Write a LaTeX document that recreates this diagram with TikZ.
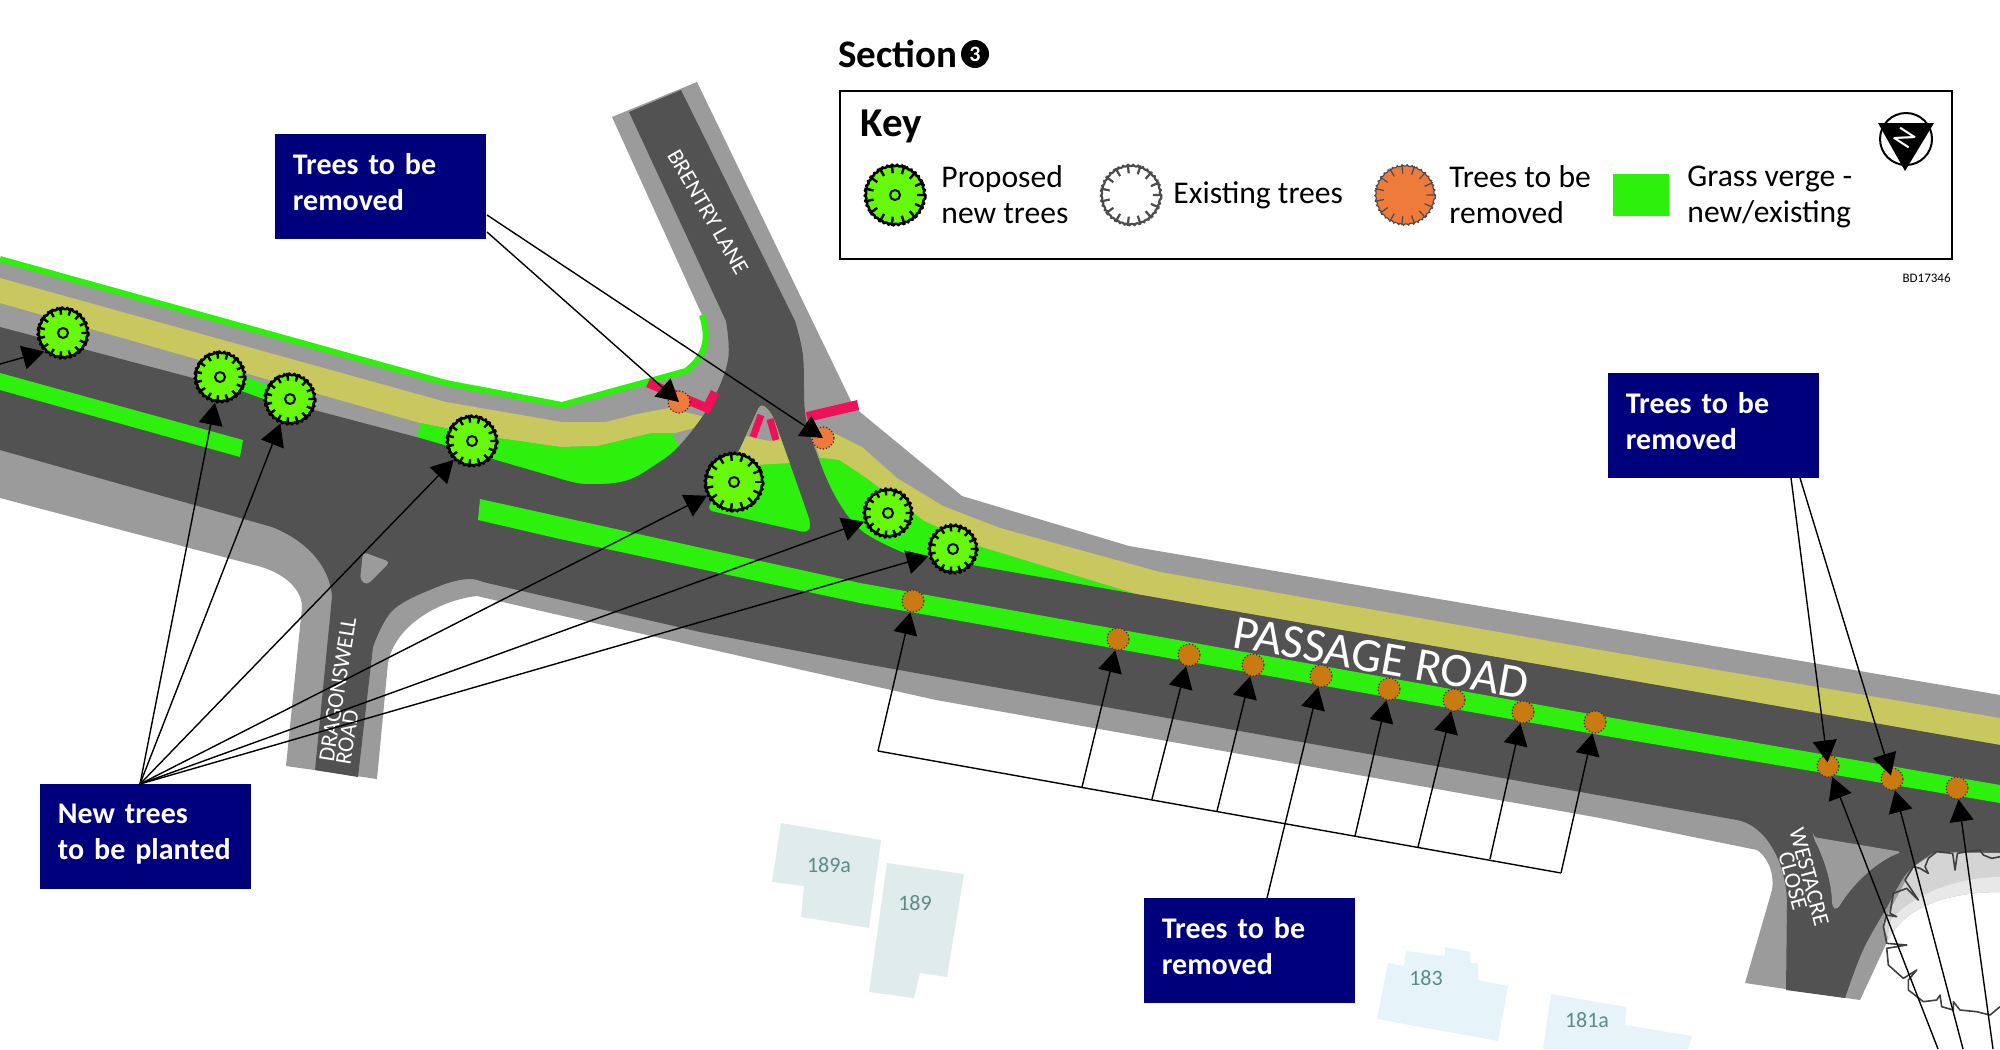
\documentclass[tikz,border=0pt]{standalone}
\usepackage{fontspec}
\setmainfont{Carlito}
\usetikzlibrary{arrows.meta,calc,decorations.pathmorphing}
\definecolor{kerb}{HTML}{9B9B9B}
\definecolor{tarmac}{HTML}{525252}
\definecolor{cycleway}{HTML}{C8C85E}
\definecolor{verge}{HTML}{2DF00D}
\definecolor{leaf}{HTML}{66FA0A}
\definecolor{navybox}{HTML}{00007C}
\definecolor{crossing}{HTML}{F0105A}
\definecolor{oldtree}{HTML}{EE7A3C}
\definecolor{stumptree}{HTML}{C97A10}
\definecolor{house}{HTML}{DFECEB}
\definecolor{housetwo}{HTML}{E6F3F8}
\definecolor{housetext}{HTML}{5F8A88}
\tikzset{
  callout/.style={fill=navybox,text=white,font=\fontsize{15}{18}\selectfont\bfseries,align=left,anchor=north west,
    minimum width=105.5pt,minimum height=52.5pt,inner sep=0pt,text width=88pt,text depth=23pt},
  keytext/.style={font=\fontsize{15.8}{18}\selectfont,align=left,anchor=west,inner sep=0pt},
  roadname/.style={text=white,inner sep=0pt,align=center},
  houseno/.style={text=housetext,font=\fontsize{11}{12}\selectfont,inner sep=0pt},
  treeshape/.style={circle,draw,inner sep=0pt,line join=round,decorate,decoration={bumps,segment length=5pt,amplitude=.6pt}},
  newtreenode/.style={treeshape,fill=leaf,line width=1.3pt},
  treeeye/.style={circle,draw,fill=leaf,line width=1pt,minimum size=5pt,inner sep=0pt},
  smalltree/.style={circle,draw=black!80,densely dotted,line width=.6pt,fill=stumptree,minimum size=11pt,inner sep=0pt},
  redtree/.style={smalltree,fill=oldtree},
  lead/.style={->,line width=.7pt},
  >={Triangle[length=11pt,width=12pt]}
}
\newcommand{\treeticks}[2]{\foreach \ang in {0,24,...,336} \draw[#2] (#1.\ang) -- ($(#1.\ang)!0.3!(#1.center)$);}
\newcommand{\newtree}[3]{
  \node[newtreenode,minimum size=#3pt] (#1) at (#2) {};
  \treeticks{#1}{line width=1.2pt}
  \node[treeeye] (#1eye) at (#1) {};
}
\begin{document}
\begin{tikzpicture}[x=.5pt,y=-.5pt]
\clip (0,0) rectangle (2000,1049);

% roads
\fill[kerb] (0,259) -- (446,383) -- (562,405) -- (686,371) .. controls (700,360) and (712,345) .. (702,315) -- (612,117) -- (697,82) -- (851,401) -- (860,412) -- (962,496) -- (1129,546) -- (2000,695) -- (2000,892) .. controls (1950,892) and (1905,905) .. (1887,942) -- (1860,1000) -- (1745,983) -- (1772,890) .. controls (1775,870) and (1765,855) .. (1757,850) -- (1600,818) -- (936,700) -- (860,683) -- (700,647) -- (550,613) -- (477,596) .. controls (440,600) and (395,625) .. (388,663) -- (377,779) -- (286,766) -- (302,607) .. controls (302,590) and (285,572) .. (254,565) -- (0,498) -- cycle;
\draw[verge,line width=3pt] (0,259) -- (446,383) -- (562,405) -- (686,371) .. controls (700,360) and (712,345) .. (702,315);

\fill[cycleway] (0,278) -- (446,402) -- (562,422) -- (606,422) -- (637,414) -- (669,408) -- (705,417) -- (698,427) -- (675,433) -- (652,433) -- (598,446) -- (560,447) -- (491,437) -- (420,423) -- (0,303) -- cycle;
\fill[verge] (420,423) -- (491,437) -- (560,447) -- (598,446) -- (652,433) -- (672,433) -- (679,447) -- (690,470) -- (600,500) -- (415,445) -- cycle;
\fill[cycleway] (834,433) -- (862,447) -- (897,478) -- (943,506) -- (1000,528) -- (1160,572) -- (1600,650) -- (2000,718) -- (2000,745) -- (1136,594) -- (981,547) -- (924,521) -- (866,478) -- (839,460) -- (820,458) -- (810,430) -- cycle;
\fill[verge] (820,458) -- (839,460) -- (866,478) -- (924,521) -- (981,547) -- (1136,594) -- (904,560) -- (850,540) -- (825,500) -- cycle;

\fill[tarmac] (0,327) -- (420,438) -- plot[smooth,tension=.6] coordinates {(558,478) (585,484) (625,481) (655,465) (680,445) (711,403) (728,360) (726,321)} -- (629,112) -- (681,90) -- plot[smooth,tension=.6] coordinates {(795,321) (803,356) (805,412) (814,446) (835,496) (862,531) (904,553)} -- (1136,594) -- (2000,745) -- (2000,860) -- plot[smooth,tension=.6] coordinates {(1933,853) (1907,873) (1887,907) (1863,950) (1845,998)} -- (1786,990) -- (1787,900) .. controls (1785,860) and (1765,825) .. (1737,820) -- (860,663) -- (700,632) -- plot[smooth,tension=.6] coordinates {(483,582) (467,579) (437,587) (393,610) (373,647)} -- (358,777) -- (315,770) -- (332,597) .. controls (330,565) and (305,540) .. (272,527) -- (0,450) -- cycle;

% medians and islands
\fill[verge] (0,373) -- (243,440) -- (240,457) -- (0,390) -- cycle;
\fill[verge] (230,370) -- (280,390) -- (272,402) -- (225,385) -- cycle;
\fill[verge] (480,499) -- (860,583) -- (1607,717) -- (2000,785) -- (2000,803) -- (1600,735) -- (860,603) -- (560,539) -- (478,520) -- cycle;
\fill[kerb,rounded corners=2pt] (363,552) -- (390,562) -- (367,585) -- (360,580) -- cycle;
\fill[kerb,rounded corners=2pt] (1813,837) -- (1902,852) .. controls (1880,860) and (1855,880) .. (1837,910) -- (1832,907) .. controls (1832,885) and (1825,860) .. (1813,837) -- cycle;
\begin{scope}
  \clip[rounded corners=3pt] (761,403) -- (740,449) -- (707,510) -- (808,533) -- (811,524) -- (790,464) -- (772,414) -- cycle;
  \fill[verge] (700,400) rectangle (820,540);
  \fill[cycleway] (700,400) -- (820,400) -- (820,462) -- (790,463) -- (755,465) -- (700,445) -- cycle;
  \fill[kerb] (700,395) -- (820,395) -- (820,430) -- (780,435) -- (770,441) -- (755,438) -- (700,425) -- cycle;
\end{scope}

% crossings
\draw[crossing,line width=4.5pt] (648,383) -- (707,408) -- (715,392);
\draw[crossing,line width=3.5pt] (753,437) -- (761,415);
\draw[crossing,line width=3.5pt] (776,440) -- (770,419);
\draw[crossing,line width=5pt] (807,417) -- (858,405);

% tree at the corner of Westacre Close
\fill[black!17] (2000,853) -- (1937,852) -- (1913,867) -- (1890,910) -- (1883,923) -- (1887,937) .. controls (1905,905) and (1950,892) .. (2000,892) -- cycle;
\fill[black!9] (1890,922) .. controls (1905,900) and (1950,877) .. (2000,877) -- (2000,892) .. controls (1950,892) and (1905,905) .. (1887,942) -- cycle;
\begin{scope}[shift={(1600,640)},x=.16667pt,y=-.16667pt]
  \draw[black!75,line width=.8pt,line join=round] (1200,650) -- (1175,655) -- (1150,645) -- (1140,630) -- (1100,635) -- (1072,640) -- (1065,690) -- (1058,640) -- (1010,635) -- (985,655) -- (975,680) -- (985,700) -- (960,685) -- (940,680) -- (915,720) -- (955,780) -- (920,745) -- (880,760) -- (870,820) -- (890,830) -- (860,825) -- (850,860) -- (860,910) -- (920,915) -- (860,925) -- (865,975) -- (910,1015) -- (950,990) -- (925,1020) -- (925,1050) -- (970,1085) -- (1010,1080) -- (1020,1065) -- (1025,1100) -- (1060,1110) -- (1060,1085) -- (1080,1110) -- (1130,1115) -- (1170,1125) -- (1200,1100);
\end{scope}

% houses
\fill[house] (781,823) -- (881,840) -- (869,928) -- (801,917) -- (804,886) -- (772,882) -- cycle;
\fill[house] (887,863) -- (964,874) -- (947,977) -- (920,973) -- (914,998) -- (869,992) -- cycle;
\fill[housetwo] (1406,951) -- (1445,956) -- (1445,947) -- (1470,952) -- (1470,963) -- (1478,963) -- (1478,980) -- (1508,986) -- (1498,1041) -- (1377,1019) -- (1388,963) -- (1404,966) -- cycle;
\fill[housetwo] (1551,994) -- (1626,1007) -- (1625,1025) -- (1692,1036) -- (1688,1049) -- (1543,1049) -- cycle;
\node[houseno] (no189a) at (829,865) {189a};
\node[houseno] (no189) at (915,903) {189};
\node[houseno] (no183) at (1426,978) {183};
\node[houseno] (no181a) at (1587,1020) {181a};

% road names
\node[roadname,rotate=-60,font=\fontsize{11.5}{12}\selectfont] (brentry) at (708,212) {BRENTRY LANE};
\node[roadname,rotate=-10,font=\fontsize{24}{26}\selectfont] (passage) at (1381,658) {PASSAGE ROAD};
\node[roadname,rotate=81,align=left,font=\fontsize{11.5}{8.5}\selectfont] (dragon) at (346,691) {DRAGONSWELL\\ROAD};
\node[roadname,rotate=-75,font=\fontsize{11.5}{8.5}\selectfont] (westacre) at (1801,879) {WESTACRE\\CLOSE};

% trees
\newtree{tone}{63,333}{25}
\newtree{ttwo}{220,377}{25}
\newtree{tthree}{290,399}{25}
\newtree{tfour}{472,441}{25}
\newtree{tfive}{734,482}{29}
\newtree{tsix}{888,513}{24}
\newtree{tseven}{953,549}{24}
\node[redtree] (rone) at (679,402) {};
\node[redtree] (rtwo) at (823,438) {};
\node[smalltree] (sone) at (913,601) {};
\node[smalltree] (stwo) at (1118,639) {};
\node[smalltree] (sthree) at (1189,655) {};
\node[smalltree] (sfour) at (1253,665) {};
\node[smalltree] (sfive) at (1321,676) {};
\node[smalltree] (ssix) at (1389,689) {};
\node[smalltree] (sseven) at (1454,700) {};
\node[smalltree] (seight) at (1523,712) {};
\node[smalltree] (snine) at (1595,722) {};
\node[smalltree] (sten) at (1828,766) {};
\node[smalltree] (selev) at (1892,779) {};
\node[smalltree] (stwel) at (1957,788) {};

% callouts
\node[callout] (boxa) at (275,134) {Trees to be\\removed};
\node[callout] (boxb) at (1608,373) {Trees to be\\removed};
\node[callout] (boxc) at (40,784) {New trees\\\mbox{to be planted}};
\node[callout] (boxd) at (1144,898) {Trees to be\\removed};

% leaders
\coordinate (aup) at (487,215);
\coordinate (adown) at (487,232);
\coordinate (bleft) at (1791,478);
\coordinate (bright) at (1800,478);
\coordinate (cfoot) at (140,784);
\coordinate (dfoot) at (1267,898);
\coordinate (edge) at (0,364);
\coordinate (foota) at (1938,1049);
\coordinate (footb) at (1963,1049);
\coordinate (footc) at (1993,1049);
\coordinate (brack) at (878,751);
\coordinate (bracka) at (1082,787);
\coordinate (brackb) at (1152,799);
\coordinate (brackc) at (1217,811);
\coordinate (brackd) at (1355,836);
\coordinate (bracke) at (1418,847);
\coordinate (brackf) at (1490,859);
\coordinate (brackg) at (1561,873);
\draw[line width=.7pt] (brack) -- (brackg);
\draw[lead] (edge) -- (tone.225);
\draw[lead] (cfoot) -- (ttwo);
\draw[lead] (cfoot) -- (tthree);
\draw[lead] (cfoot) -- (tfour);
\draw[lead] (cfoot) -- (tfive);
\draw[lead] (cfoot) -- (tsix);
\draw[lead] (cfoot) -- (tseven);
\draw[lead] (adown) -- (rone.center);
\draw[lead] (aup) -- (rtwo.center);
\draw[lead] (brack) -- (sone);
\draw[lead] (bracka) -- (stwo);
\draw[lead] (brackb) -- (sthree);
\draw[lead] (brackc) -- (sfour);
\draw[lead] (dfoot) -- (sfive);
\draw[lead] (brackd) -- (ssix);
\draw[lead] (bracke) -- (sseven);
\draw[lead] (brackf) -- (seight);
\draw[lead] (brackg) -- (snine);
\draw[lead,shorten >=-4pt] (bleft) -- (sten);
\draw[lead,shorten >=-4pt] (bright) -- (selev);
\draw[lead] (foota) -- (sten);
\draw[lead] (footb) -- (selev);
\draw[lead] (footc) -- (stwel);

% key
\node[anchor=west,inner sep=0pt,font=\fontsize{19.5}{20}\selectfont\bfseries] (title) at (838,54) {Section};
\node[circle,fill=black,text=white,inner sep=0pt,minimum size=14pt,font=\fontsize{11}{11}\selectfont\bfseries] (secno) at (975,54) {3};
\node[draw,line width=1.2pt,anchor=north west,minimum width=556pt,minimum height=84pt,inner sep=0pt] (keybox) at (839,90) {};
\node[anchor=west,inner sep=0pt,font=\fontsize{20.5}{21}\selectfont\bfseries] (keyhead) at (860,126) {Key};
\newtree{keynew}{895,195}{30}
\node[treeshape,black!70,fill=white,line width=1.1pt,minimum size=30pt] (keyold) at (1131,195) {};
\treeticks{keyold}{black!70,line width=1.1pt}
\node[treeshape,black!70,fill=oldtree,line width=.6pt,minimum size=30pt] (keyred) at (1405,195) {};
\treeticks{keyred}{black!70,line width=.6pt}
\node[fill=verge,minimum width=28pt,minimum height=21pt,inner sep=0pt] (keyverge) at (1641,195) {};
\node[keytext] (textnew) at (941,195) {Proposed\\new trees};
\node[keytext] (textold) at (1173,195) {Existing trees};
\node[keytext] (textred) at (1449,195) {Trees to be\\removed};
\node[keytext] (textverge) at (1687,197) {Grass verge -\\new/existing};
\node[anchor=east,inner sep=0pt,font=\fontsize{6.5}{7}\selectfont] (code) at (1951,278) {BD17346};

% north sign
\node[circle,draw,line width=1pt,minimum size=26pt,inner sep=0pt] (northring) at (1906,139) {};
\fill (1878,123) -- (1934,123) -- (1905,171) -- cycle;
\node[text=white,rotate=57,inner sep=0pt,font=\fontsize{14}{14}\selectfont] (north) at (1905,138) {N};
\end{tikzpicture}
\end{document}
